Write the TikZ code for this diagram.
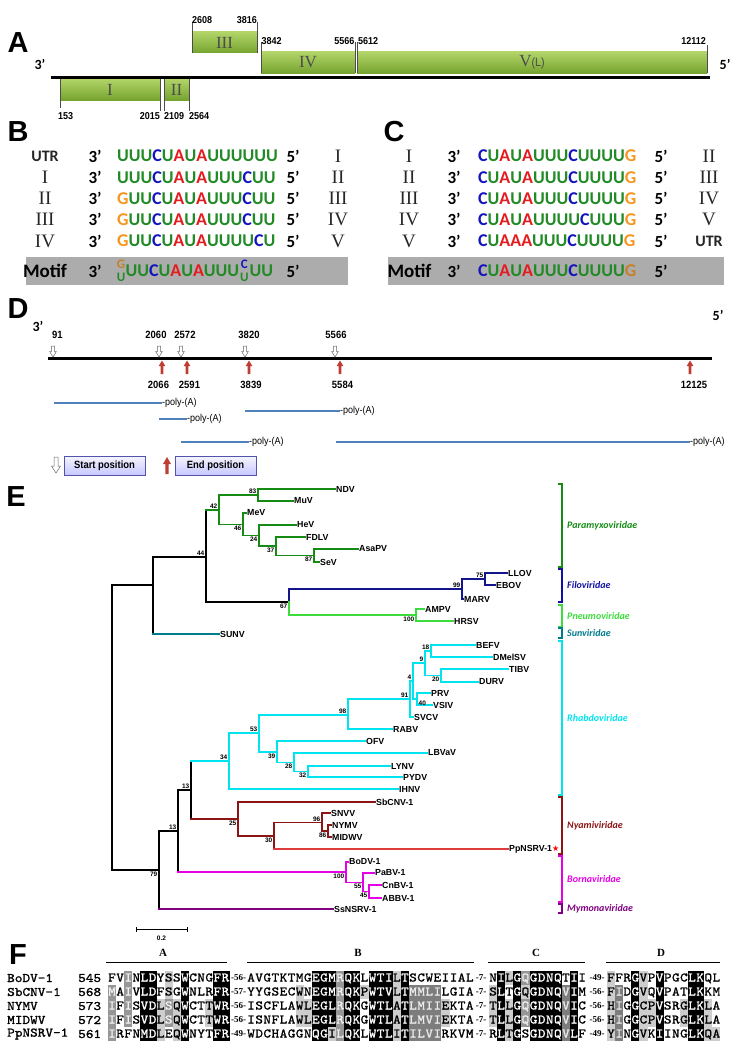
\documentclass[tikz,border=0pt]{standalone}
\usepackage{fontspec}
\usepackage{xstring}
\setmainfont{Liberation Sans}
\newfontfamily\calfont{Carlito}
\newfontfamily\serfont{Liberation Serif}
\newfontfamily\narfont[FakeStretch=0.9]{Liberation Sans}
\newfontfamily\seqmono[FakeStretch=1.12,FakeBold=1.2]{lmmono10-regular.otf}
\newfontfamily\symfont{DejaVu Sans}
\usetikzlibrary{positioning}

\definecolor{ntgreen}{RGB}{34,139,40}
\definecolor{ntblue}{RGB}{20,20,190}
\definecolor{ntred}{RGB}{228,28,32}
\definecolor{ntorange}{RGB}{246,150,32}
\definecolor{motiforange}{RGB}{200,128,40}
\definecolor{motifgray}{RGB}{172,172,172}
\definecolor{boxtop}{RGB}{178,212,104}
\definecolor{boxbot}{RGB}{118,164,48}
\definecolor{polyblue}{RGB}{79,129,189}
\definecolor{endred}{RGB}{190,62,52}
\definecolor{paragreen}{RGB}{20,140,20}
\definecolor{filonavy}{RGB}{20,20,140}
\definecolor{pneugreen}{RGB}{60,220,60}
\definecolor{sunteal}{RGB}{0,125,140}
\definecolor{rhabcyan}{RGB}{0,228,240}
\definecolor{nyamired}{RGB}{140,20,20}
\definecolor{pplred}{RGB}{222,60,60}
\definecolor{bornamag}{RGB}{230,0,230}
\definecolor{mymopurp}{RGB}{128,0,128}
% residue shading codes
\definecolor{shn}{RGB}{255,255,255}\definecolor{txn}{RGB}{0,0,0}
\definecolor{shk}{RGB}{0,0,0}\definecolor{txk}{RGB}{255,255,255}
\definecolor{shd}{RGB}{125,125,125}\definecolor{txd}{RGB}{235,235,235}
\definecolor{shm}{RGB}{150,150,150}\definecolor{txm}{RGB}{240,240,240}
\definecolor{shl}{RGB}{205,205,205}\definecolor{txl}{RGB}{0,0,0}

\newcommand\nU{\textcolor{ntgreen}{U}}
\newcommand\nC{\textcolor{ntblue}{C}}
\newcommand\nA{\textcolor{ntred}{A}}
\newcommand\nG{\textcolor{ntorange}{G}}

\tikzset{
  panlet/.style={inner sep=0pt, font=\bfseries\fontsize{29}{29}\selectfont},
  gbox/.style={top color=boxtop, bottom color=boxbot, inner sep=0pt, minimum height=21pt, text=black!70, font=\serfont\fontsize{17}{17}\selectfont},
  gtick/.style={draw=black!70, line width=0.6pt},
  anum/.style={inner sep=0pt, font=\narfont\bfseries\fontsize{10}{10}\selectfont},
  aprime/.style={inner sep=0pt, font=\calfont\bfseries\fontsize{14}{14}\selectfont},
  prime/.style={inner sep=0pt, font=\calfont\bfseries\fontsize{17}{17}\selectfont},
  rom/.style={inner sep=0pt, text=black!85, font=\serfont\fontsize{19}{19}\selectfont},
  nseq/.style={inner sep=0pt, anchor=west, font=\calfont\bfseries\fontsize{18}{18}\selectfont},
  nstack/.style={inner sep=0pt, align=center, font=\calfont\bfseries\fontsize{13}{13}\selectfont},
  dnum/.style={inner sep=0pt, font=\narfont\bfseries\fontsize{10.5}{11}\selectfont},
  polybar/.style={draw=polyblue, line width=2.2pt},
  polylab/.style={inner sep=0pt, anchor=west, font=\narfont\fontsize{10}{10}\selectfont},
  startarr/.style={draw=black!60, fill=white, line width=0.5pt},
  legbox/.style={draw=blue!35!gray, top color=blue!4, bottom color=blue!22, inner sep=0pt, minimum width=81pt, minimum height=19pt, font=\narfont\bfseries\fontsize{10.5}{11}\selectfont},
  leaf/.style={anchor=west, inner sep=1pt, font=\bfseries\fontsize{8.8}{9}\selectfont},
  bsu/.style={anchor=south east, inner sep=0pt, xshift=-1.5pt, yshift=1pt, font=\bfseries\fontsize{6.5}{6.5}\selectfont},
  bsd/.style={anchor=north east, inner sep=0pt, xshift=-1.5pt, yshift=-1.5pt, font=\bfseries\fontsize{6.5}{6.5}\selectfont},
  famlab/.style={anchor=west, inner sep=0pt, font=\calfont\bfseries\itshape\fontsize{10}{10}\selectfont},
  seqname/.style={anchor=west, inner sep=0pt, font=\seqmono\fontsize{13}{13}\selectfont},
  res/.style={inner sep=0pt, minimum width=8.1pt, minimum height=14pt, text height=7pt, text depth=0pt, font=\seqmono\fontsize{13}{13}\selectfont},
  gaplab/.style={inner sep=0pt, font=\serfont\bfseries\fontsize{9}{9}\selectfont},
  blkhead/.style={inner sep=0pt, font=\serfont\bfseries\fontsize{11}{11}\selectfont},
}

% elbow branch: vertical part in parent colour, horizontal part in child colour
\newcommand\treebr[4]{%
  \draw[#1] (#3) -- (#3 |- #4);
  \draw[#2] (#3 |- #4) -- (#4);}
% family bracket on the right of the tree
\newcommand\fambr[5]{%
  \draw[#1, line width=1.2pt] (558,#2) -- (562,#2) -- (562,#3) -- (558,#3);
  \node[famlab, text=#1] (#5) at (567,{(#2+#3)/2}) {#4};}
% start / end markers of panel D
\newcommand\dstart[1]{%
  \draw[startarr] (#1-1.6,346) -- (#1+1.6,346) -- (#1+1.6,351.5) -- (#1+3.4,351.5) -- (#1,357) -- (#1-3.4,351.5) -- (#1-1.6,351.5) -- cycle;}
\newcommand\dend[1]{%
  \fill[endred] (#1-1.4,374) -- (#1+1.4,374) -- (#1+1.4,366) -- (#1+3.3,366) -- (#1,360.5) -- (#1-3.3,366) -- (#1-1.4,366) -- cycle;}
% one block of the alignment: x0, y, residues, shading codes, name
\newcommand\alnblock[5]{%
  \StrLen{#3}[\alnlen]%
  \foreach \ix in {1,...,\alnlen}{%
    \StrChar{#3}{\ix}[\rsd]%
    \StrChar{#4}{\ix}[\shd]%
    \node[res, fill=sh\shd, text=tx\shd] (#5-\ix) at ({#1+(\ix-0.5)*8.1},#2) {\rsd};
  }}

\begin{document}
\begin{tikzpicture}[x=1pt,y=1pt,yscale=-1,xscale=1]
\useasboundingbox (0,0) rectangle (742,1049);

% ---------------- A ----------------
\node[panlet] (pA) at (18,43) {A};
\node[aprime] (a3) at (40,64) {3’};
\node[aprime] (a5) at (725,64) {5’};
%Straight Lines
\draw[line width=3pt] (51,77) -- (710,77);
%Shape: gene boxes
\node[gbox, minimum width=100pt] (g1) at (110,89.5) {I};
\node[gbox, minimum width=25pt] (g2) at (176.5,89.5) {II};
\node[gbox, minimum width=65pt] (g3) at (224.5,42.5) {III};
\node[gbox, minimum width=94pt] (g4) at (308,62.5) {IV};
\node[gbox, minimum width=350pt] (g5) at (532,62.5) {V{\narfont\fontsize{12}{12}\selectfont(L)}};
\draw[gtick] (g3.south west) -- ++(0,-31);
\draw[gtick] (g3.south east) -- ++(0,-31);
\draw[gtick] (g4.south west) -- ++(0,-31);
\draw[gtick] (g4.south east) -- ++(0,-31);
\draw[gtick] (g5.south west) -- ++(0,-31);
\draw[gtick] (g5.south east) -- ++(0,-28);
\draw[gtick] (g1.north west) -- ++(0,29);
\draw[gtick] (g1.north east) -- ++(0,32);
\draw[gtick] (g2.north west) -- ++(0,32);
\draw[gtick] (g2.north east) -- ++(0,32);
% Text Node
\node[anum, anchor=south west] (a2608) at (192,24) {2608};
\node[anum, anchor=south east] (a3816) at (257,24) {3816};
\node[anum, anchor=south west] (a3842) at (261.5,44.5) {3842};
\node[anum, anchor=south east] (a5566) at (354.5,44.5) {5566};
\node[anum, anchor=south west] (a5612) at (358,44.5) {5612};
\node[anum, anchor=south east] (a12112) at (706,44.5) {12112};
\node[anum, anchor=north west] (a153) at (58,112) {153};
\node[anum, anchor=north east] (a2015) at (160,112) {2015};
\node[anum, anchor=north west] (a2109) at (164,112) {2109};
\node[anum, anchor=north west] (a2564) at (189,112) {2564};

% ---------------- B ----------------
\node[panlet] (pB) at (18,132) {B};
\foreach \y/\lbl/\sq/\rbl [count=\ri] in {
  156/{\calfont\bfseries\fontsize{16}{16}\selectfont UTR}/{\nU\nU\nU\nC\nU\nA\nU\nA\nU\nU\nU\nU\nU\nU}/I,
  177.5/I/{\nU\nU\nU\nC\nU\nA\nU\nA\nU\nU\nU\nC\nU\nU}/II,
  198.5/II/{\nG\nU\nU\nC\nU\nA\nU\nA\nU\nU\nU\nC\nU\nU}/III,
  219.5/III/{\nG\nU\nU\nC\nU\nA\nU\nA\nU\nU\nU\nC\nU\nU}/IV,
  241/IV/{\nG\nU\nU\nC\nU\nA\nU\nA\nU\nU\nU\nU\nC\nU}/V}{
  \node[rom] (bl\ri) at (45,\y) {\lbl};
  \node[prime] (bt\ri) at (95,\y) {3’};
  \node[nseq] (bs\ri) at (117,\y) {\sq};
  \node[prime] (bf\ri) at (293,\y) {5’};
  \node[rom] (br\ri) at (338,\y) {\rbl};
}
%Shape: Rectangle
\fill[motifgray] (26,257) rectangle (348,285);
\node[prime, font=\calfont\bfseries\fontsize{19}{19}\selectfont] (bmot) at (45,271) {Motif};
\node[prime] (bmt) at (95,271) {3’};
\node[nstack] (bm1) at (121,271) {\textcolor{motiforange}{G}\\\textcolor{ntgreen}{U}};
\node[nseq, right=0pt of bm1] (bm2) {\nU\nU\nC\nU\nA\nU\nA\nU\nU\nU};
\node[nstack, right=0.5pt of bm2] (bm3) {\textcolor{ntblue}{C}\\\textcolor{ntgreen}{U}};
\node[nseq, right=0.5pt of bm3] (bm4) {\nU\nU};
\node[prime] (bmf) at (293,271) {5’};

% ---------------- C ----------------
\node[panlet] (pC) at (394,132) {C};
\foreach \y/\lbl/\sq/\rbl [count=\ri] in {
  156/I/{\nC\nU\nA\nU\nA\nU\nU\nU\nC\nU\nU\nU\nU\nG}/II,
  177.5/II/{\nC\nU\nA\nU\nA\nU\nU\nU\nC\nU\nU\nU\nU\nG}/III,
  198.5/III/{\nC\nU\nA\nU\nA\nU\nU\nU\nC\nU\nU\nU\nU\nG}/IV,
  219.5/IV/{\nC\nU\nA\nU\nA\nU\nU\nU\nU\nC\nU\nU\nU\nG}/V,
  241/V/{\nC\nU\nA\nA\nA\nU\nU\nU\nC\nU\nU\nU\nU\nG}/{\calfont\bfseries\fontsize{16}{16}\selectfont UTR}}{
  \node[rom] (cl\ri) at (409,\y) {\lbl};
  \node[prime] (ct\ri) at (454,\y) {3’};
  \node[nseq] (cs\ri) at (478,\y) {\sq};
  \node[prime] (cf\ri) at (661,\y) {5’};
  \node[rom] (cr\ri) at (709,\y) {\rbl};
}
%Shape: Rectangle
\fill[motifgray] (388,257) rectangle (724,285);
\node[prime, font=\calfont\bfseries\fontsize{19}{19}\selectfont] (cmot) at (409.5,271) {Motif};
\node[prime] (cmt) at (454,271) {3’};
\node[nseq] (cm1) at (478,271) {\nC\nU\nA\nU\nA\nU\nU\nU\nC\nU\nU\nU\nU\textcolor{motiforange}{G}};
\node[prime] (cmf) at (661,271) {5’};

% ---------------- D ----------------
\node[panlet] (pD) at (18,309) {D};
\node[aprime] (d3) at (38,326) {3’};
\node[aprime] (d5) at (718,315) {5’};
%Straight Lines
\draw[line width=3pt] (48,358) -- (712,358);
\foreach \x in {53,159,181,245,335} {\dstart{\x}}
\foreach \x in {162,187,249,340,690} {\dend{\x}}
% Text Node
\foreach \x/\t [count=\ri] in {57.5/91,156/2060,185/2572,249/3820,336/5566}
  {\node[dnum] (ds\ri) at (\x,335) {\t};}
\foreach \x/\t [count=\ri] in {158.5/2066,189.5/2591,251/3839,342.5/5584,694/12125}
  {\node[dnum] (de\ri) at (\x,385) {\t};}
% poly-(A) transcripts
\foreach \xa/\xb/\y [count=\ri] in {54/162/402.7, 245/340/410.7, 159/187/419.3, 181/249/442.3, 336/690/442.3}{
  \coordinate (pa\ri) at (\xa,\y);
  \node[polylab] (pl\ri) at (\xb,\y) {-poly-(A)};
  \draw[polybar] (pa\ri) -- (pl\ri.west);
}
% legend
\draw[startarr] (54,457) -- (58,457) -- (58,466) -- (60.5,466) -- (56,473) -- (51.5,466) -- (54,466) -- cycle;
\node[legbox] (lgs) at (104.5,465.5) {Start position};
\fill[endred] (165.3,474) -- (168.7,474) -- (168.7,464) -- (171,464) -- (167,457) -- (163,464) -- (165.3,464) -- cycle;
\node[legbox] (lge) at (215.5,465.5) {End position};

% ---------------- E ----------------
\node[panlet] (pE) at (16,497) {E};
% internal nodes
\coordinate (root) at (112,727);
\coordinate (nA) at (153,585);
\coordinate (n44) at (206,557);
\coordinate (n42) at (219,510);
\coordinate (n83) at (258,495);
\coordinate (n46) at (243,524.5);
\coordinate (n24) at (259,535.5);
\coordinate (n37) at (276,546);
\coordinate (n87) at (314,555.5);
\coordinate (n67) at (289,602);
\coordinate (n99) at (462,589);
\coordinate (n75) at (485,579);
\coordinate (n100p) at (416,615);
\coordinate (n79) at (159,870);
\coordinate (n13a) at (178,831);
\coordinate (n13b) at (191,790);
\coordinate (n34) at (229,761);
\coordinate (n53) at (259,733);
\coordinate (n98) at (348,715);
\coordinate (n91) at (410,699);
\coordinate (n4) at (413,681);
\coordinate (n9) at (425,663);
\coordinate (n18) at (431,651);
\coordinate (n20) at (441,675.5);
\coordinate (n40) at (417,699);
\coordinate (n39) at (277,752);
\coordinate (n28) at (294,762.5);
\coordinate (n32) at (308,771.5);
\coordinate (n25) at (238,819);
\coordinate (n30) at (274,836);
\coordinate (n96) at (322,822.5);
\coordinate (n86) at (328,831);
\coordinate (n100b) at (346,872);
\coordinate (n55) at (363,882.5);
\coordinate (n45) at (369,891.5);
% leaves
\foreach \nd/\x/\y/\t in {ndv/335/489/NDV, muv/293/501/MuV, mev/246/513/MeV, hev/296/525/HeV,
    fdlv/305/537/FDLV, asapv/358/549/AsaPV, sev/319/562/SeV, llov/507/573/LLOV, ebov/495/585/EBOV,
    marv/463/599/MARV, ampv/424/609/AMPV, hrsv/453/621/HRSV, sunv/219/634/SUNV, befv/475/645/BEFV,
    dmelsv/492/657/DMelSV, tibv/508/669/TIBV, durv/478/682/DURV, prv/430/693/PRV, vsiv/432/705/VSIV,
    svcv/413/717/SVCV, rabv/392/729/RABV, ofv/365/741/OFV, lbvav/427/753/LBVaV, lynv/390/766/LYNV,
    pydv/402/777/PYDV, ihnv/398/789/IHNV, sbcnv/375/802/SbCNV-1, snvv/330/813/SNVV, nymv/331/825/NYMV,
    midwv/331/837/MIDWV, bodv/348/862/BoDV-1, pabv/374/873/PaBV-1,
    cnbv/381/885/CnBV-1, abbv/381/898/ABBV-1, ssnsrv/333/909/SsNSRV-1}
  {\node[leaf] (\nd) at (\x,\y) {\t};}
\node[leaf] (ppnsrv) at (508,849) {PpNSRV-1\textcolor{red}{\symfont\fontsize{8}{8}\selectfont ★}};
% branches
\begin{scope}[line width=1.2pt, line cap=rect]
\foreach \pcol/\ccol/\pnd/\cnd in {
    black/black/root/nA, black/black/root/n79, black/black/nA/n44, black/sunteal/nA/sunv,
    black/paragreen/n44/n42, black/black/n44/n67,
    paragreen/paragreen/n42/n83, paragreen/paragreen/n42/n46, paragreen/paragreen/n83/ndv,
    paragreen/paragreen/n83/muv, paragreen/paragreen/n46/mev, paragreen/paragreen/n46/n24,
    paragreen/paragreen/n24/hev, paragreen/paragreen/n24/n37, paragreen/paragreen/n37/fdlv,
    paragreen/paragreen/n37/n87, paragreen/paragreen/n87/asapv, paragreen/paragreen/n87/sev,
    filonavy/filonavy/n67/n99, pneugreen/pneugreen/n67/n100p,
    filonavy/filonavy/n99/n75, filonavy/filonavy/n99/marv, filonavy/filonavy/n75/llov, filonavy/filonavy/n75/ebov,
    pneugreen/pneugreen/n100p/ampv, pneugreen/pneugreen/n100p/hrsv,
    black/black/n79/n13a, black/mymopurp/n79/ssnsrv, black/black/n13a/n13b, black/bornamag/n13a/n100b,
    black/rhabcyan/n13b/n34, black/nyamired/n13b/n25,
    rhabcyan/rhabcyan/n34/n53, rhabcyan/rhabcyan/n34/ihnv, rhabcyan/rhabcyan/n53/n98, rhabcyan/rhabcyan/n53/n39,
    rhabcyan/rhabcyan/n98/n91, rhabcyan/rhabcyan/n98/rabv, rhabcyan/rhabcyan/n91/n4, rhabcyan/rhabcyan/n91/svcv,
    rhabcyan/rhabcyan/n4/n9, rhabcyan/rhabcyan/n4/n40, rhabcyan/rhabcyan/n9/n18, rhabcyan/rhabcyan/n9/n20,
    rhabcyan/rhabcyan/n18/befv, rhabcyan/rhabcyan/n18/dmelsv, rhabcyan/rhabcyan/n20/tibv, rhabcyan/rhabcyan/n20/durv,
    rhabcyan/rhabcyan/n40/prv, rhabcyan/rhabcyan/n40/vsiv, rhabcyan/rhabcyan/n39/ofv, rhabcyan/rhabcyan/n39/n28,
    rhabcyan/rhabcyan/n28/lbvav, rhabcyan/rhabcyan/n28/n32, rhabcyan/rhabcyan/n32/lynv, rhabcyan/rhabcyan/n32/pydv,
    nyamired/nyamired/n25/sbcnv, nyamired/nyamired/n25/n30, nyamired/pplred/n30/ppnsrv, nyamired/nyamired/n30/n96,
    nyamired/nyamired/n96/snvv, nyamired/nyamired/n96/n86, nyamired/nyamired/n86/nymv, nyamired/nyamired/n86/midwv,
    bornamag/bornamag/n100b/bodv, bornamag/bornamag/n100b/n55, bornamag/bornamag/n55/pabv, bornamag/bornamag/n55/n45,
    bornamag/bornamag/n45/cnbv, bornamag/bornamag/n45/abbv}
  {\treebr{\pcol}{\ccol}{\pnd}{\cnd}}
\end{scope}
% bootstrap values
\foreach \nd/\bv in {n44/44, n42/42, n83/83, n99/99, n75/75, n13a/13, n13b/13, n34/34, n53/53,
    n98/98, n91/91, n4/4, n9/9, n18/18, n96/96}
  {\node[bsu] (b\nd) at (\nd) {\bv};}
\foreach \nd/\bv in {n46/46, n24/24, n37/37, n87/87, n67/67, n100p/100, n79/79, n20/20, n39/39,
    n28/28, n32/32, n25/25, n30/30, n86/86, n100b/100, n55/55, n45/45}
  {\node[bsd] (b\nd) at (\nd) {\bv};}
\node[bsd, anchor=north west, xshift=3pt] (bn40) at (n40) {40};
% families
\fambr{paragreen}{484}{567}{Paramyxoviridae}{fpara}
\fambr{filonavy!80!blue}{569}{602}{Filoviridae}{ffilo}
\fambr{pneugreen}{605}{627}{Pneumoviridae}{fpneu}
\fambr{sunteal}{628}{638}{Sunviridae}{fsun}
\fambr{rhabcyan}{641}{795}{Rhabdoviridae}{frhab}
\fambr{nyamired}{797}{854}{Nyamiviridae}{fnyam}
\fambr{bornamag}{856}{902}{Bornaviridae}{fborn}
\fambr{mymopurp}{904}{913}{Mymonaviridae}{fmymo}
% scale bar
\coordinate (sb1) at (136,929);
\coordinate (sb2) at (187,929);
\draw[line width=1pt] (sb1) -- (sb2);
\draw[line width=0.8pt] ([yshift=2.5pt]sb1) -- ([yshift=-2.5pt]sb1);
\draw[line width=0.8pt] ([yshift=2.5pt]sb2) -- ([yshift=-2.5pt]sb2);
\node[bsd, anchor=north, xshift=1.5pt] (sblab) at (161.5,934) {0.2};

% ---------------- F ----------------
\node[panlet] (pF) at (18,955) {F};
\foreach \x/\xa/\xb/\t in {163/106/227/A, 358/247/474/B, 536/488/585/C, 661/606/720/D}{
  \node[blkhead] (h\t) at (\x,953) {\t};
  \draw[line width=0.8pt] (\xa,962) -- (\xb,962);
}
\foreach \y/\nm/\nb [count=\ri] in {978/BoDV-1/545, 992/SbCNV-1/568, 1006/NYMV/573, 1020/MIDWV/572, 1034/PpNSRV-1/561}{
  \node[seqname] (fn\ri) at (7,\y) {\nm};
  \node[seqname] (fp\ri) at (78,\y) {\nb};
}
\foreach \y/\sq/\sh [count=\ri] in {978/FVINLDYSSWCNGFR/nnmnkknlnknnnkk, 992/MAIVLDFSGWNLRFR/mnmnkknlnknnnkk,
    1006/IFISVDLSQWCTTWR/mnmnkklmlknnlkk, 1020/IFISVDLSQWCTTWR/mnmnkklmlknnlkk, 1034/IRFNMDLEQWNYTFR/mnnnkklnlknnnkk}
  {\alnblock{108}{\y}{\sq}{\sh}{fa\ri}}
\foreach \y/\sq/\sh [count=\ri] in {978/AVGTKTMGEGMRQKLWTILTSCWEIIAL/nnnnnnnnkkkmkknkkklknnnnnnnn,
    992/YYGSECWNEGMRQKPWTVLTMMLILGIA/nnnnnnlnkkkmkklkkklkddddnnnn,
    1006/ISCFLAWLEGLRQKGWTLATLMIIEKTA/nnnnnnllkkkmkknkkklkddddlnnn,
    1020/ISNFLAWLEGLRQKGWTLATLMVIEKTA/nnnnnnllkkkmkknkkklkddddlnnn,
    1034/WDCHAGGNQGILQKLWTLITILVIRKVM/nnnnnnnnkklmkknkkklkddddnnnn}
  {\alnblock{247}{\y}{\sq}{\sh}{fb\ri}}
\foreach \y/\sq/\sh [count=\ri] in {978/NILGQGDNQTII/nklkmkkkknkn, 992/SLTGQGDNQVIM/lknklkkkkdkn,
    1006/TLLGQGDNQVIC/lklkmkkkkdkn, 1020/TLLGQGDNQVIC/lklkmkkkkdkn, 1034/RLTGSGDNQVLF/nklknkkkkdkn}
  {\alnblock{489}{\y}{\sq}{\sh}{fc\ri}}
\foreach \y/\sq/\sh [count=\ri] in {978/FFRGVPVPGCLKQL/lnnklnknnnkknn, 992/FIDGVQVPATLKKM/ldnklnknnnkknn,
    1006/HIGGCPVSRGLKLA/ldnkllknnlkkln, 1020/HIGGCPVSRGLKLA/ldnkllknnlkkln, 1034/YINGVKIINGLKQA/ldnklnknnnkkll}
  {\alnblock{607}{\y}{\sq}{\sh}{fd\ri}}
% Text Node gaps
\foreach \y/\ga/\gb/\gc [count=\ri] in {978/56/7/49, 992/57/7/56, 1006/56/7/56, 1020/56/7/56, 1034/49/7/49}{
  \node[gaplab] (ga\ri) at (238.5,\y) {-\ga-};
  \node[gaplab] (gb\ri) at (481,\y) {-\gb-};
  \node[gaplab] (gc\ri) at (597,\y) {-\gc-};
}
\end{tikzpicture}
\end{document}
